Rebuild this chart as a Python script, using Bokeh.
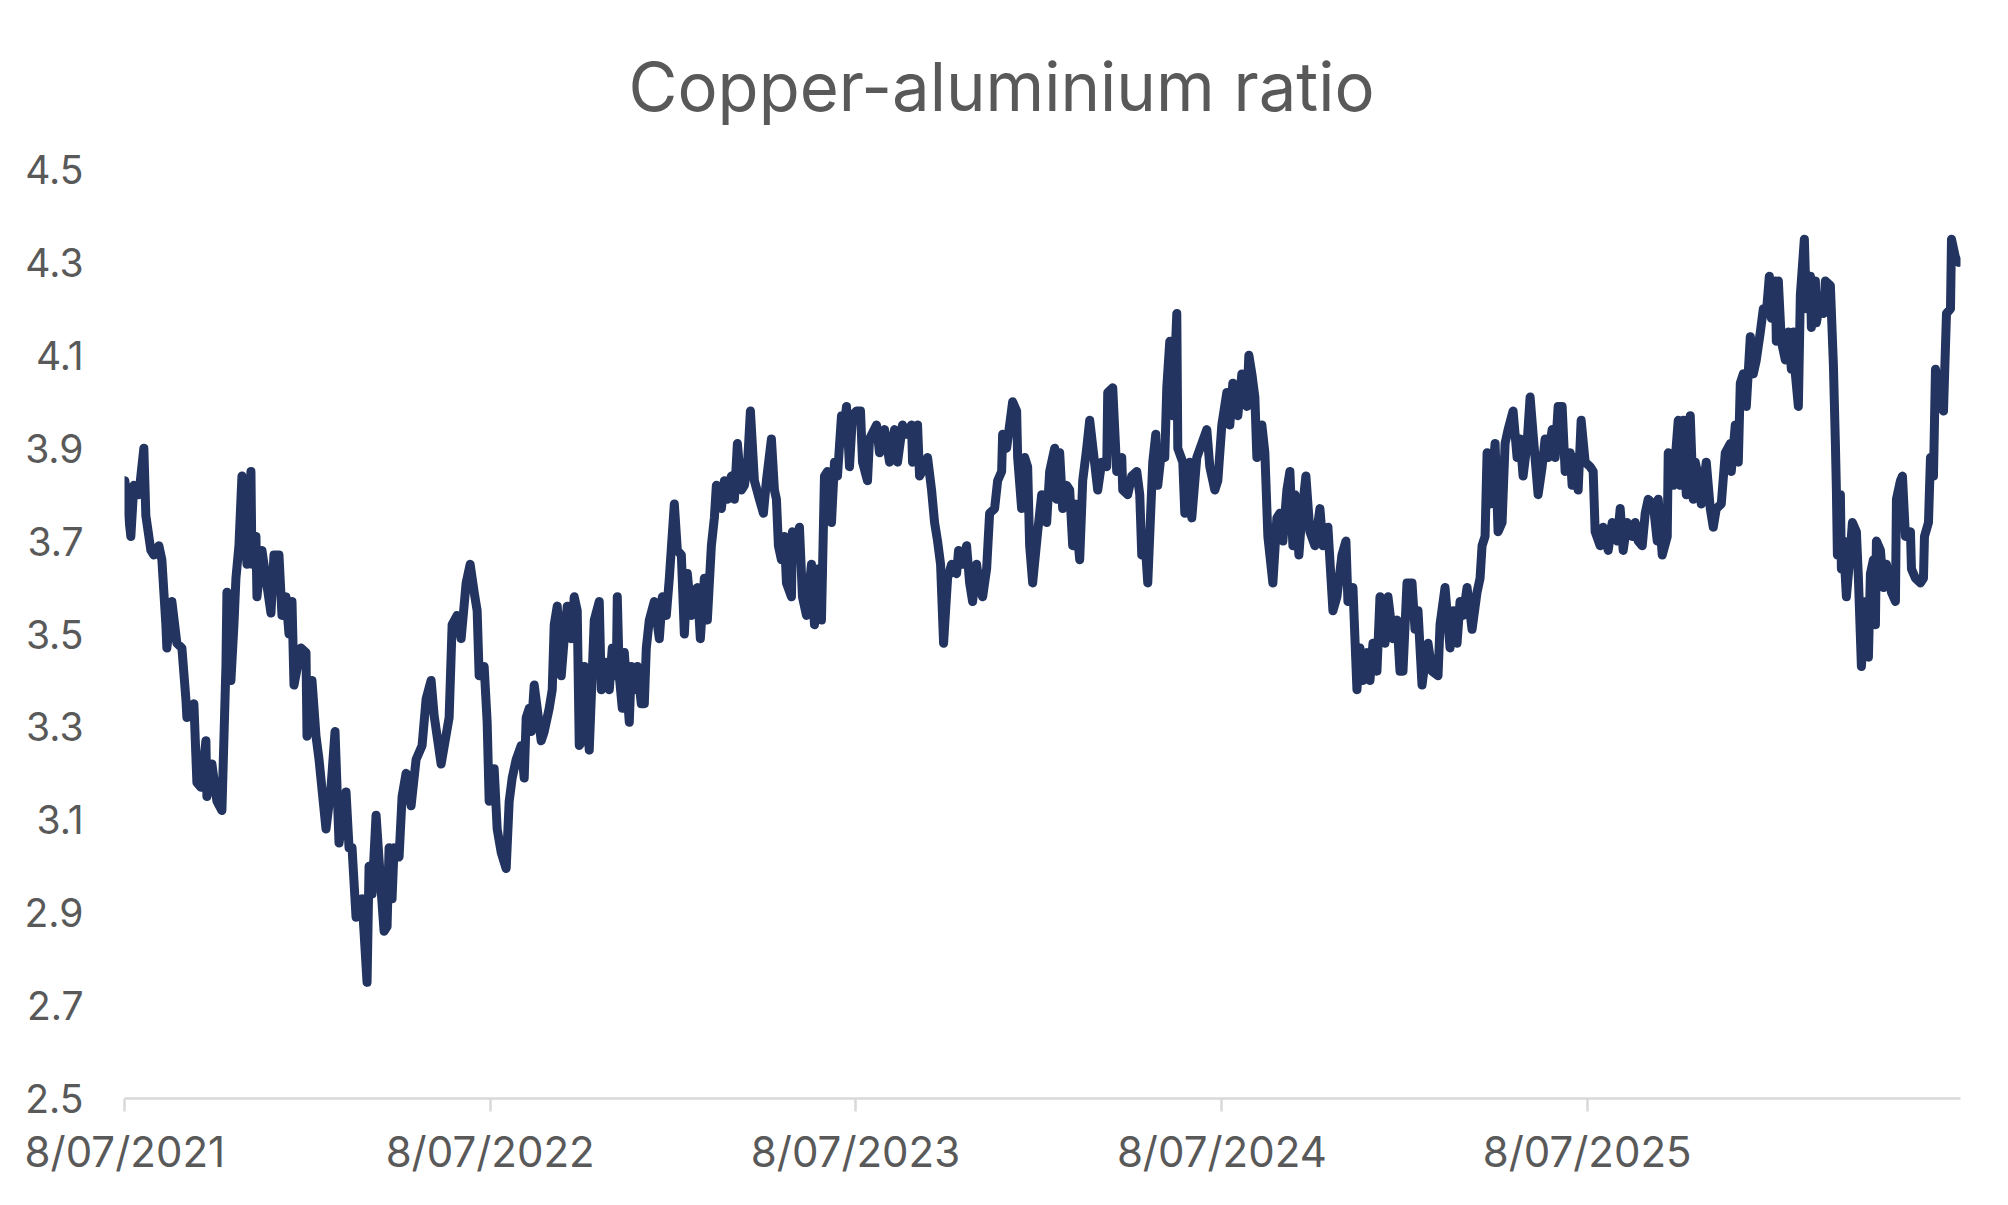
import pandas as pd
from bokeh.plotting import figure
from bokeh.models import ColumnDataSource, Range1d, FixedTicker, CustomJSTickFormatter
from bokeh.embed import file_html
from bokeh.resources import INLINE

title_text = "Copper-aluminium ratio"
start_date = "2021-07-08"
x_tick_dates = ["2021-07-08", "2022-07-08", "2023-07-08", "2024-07-08", "2025-07-08"]
y_ticks = [2.5, 2.7, 2.9, 3.1, 3.3, 3.5, 3.7, 3.9, 4.1, 4.3, 4.5]

# (days since 8/07/2021, copper/aluminium ratio)
seg_2021_22 = [(0,3.83),(6,3.71),(9,3.82),(14,3.80),(19,3.90),(21,3.755),(26,3.68),(29,3.67),(34,3.69),(37,3.66),
    (41,3.52),(42,3.47),(47,3.57),(52,3.48),(57,3.47),(61,3.36),(62,3.32),(69,3.35),(72,3.18),(76,3.17),(81,3.27),
    (82,3.15),(87,3.22),(92,3.14),(97,3.12),(101,3.43),(102,3.59),(106,3.40),(109,3.52),(111,3.62),(114,3.69),
    (117,3.84),(122,3.65),(126,3.85),(127,3.65),(131,3.71),(132,3.58),(137,3.68),(141,3.62),(146,3.545),(149,3.67),
    (154,3.67),(157,3.54),(161,3.58),(164,3.50),(167,3.57),(169,3.39),(176,3.47),(181,3.46),(182,3.28),(187,3.40),
    (191,3.28),(194,3.23),(201,3.08),(206,3.17),(210,3.29),(214,3.05),(221,3.16),(224,3.04),(227,3.04),(231,2.89),
    (237,2.93),(242,2.75),(244,3.00),(247,2.94),(251,3.11),(256,2.95),(259,2.86),(262,2.87),(264,3.04),(267,2.93),
    (269,3.04),(274,3.02),(277,3.15),(281,3.20),(286,3.13),(291,3.23),(297,3.26),(301,3.36),(306,3.40),(309,3.325),
    (316,3.22)]
seg_2022_23 = [(324,3.32),(327,3.52),(332,3.54),(336,3.49),(341,3.61),(345,3.65),(349,3.59),(352,3.55),(354,3.41),
    (359,3.43),(362,3.31),(364,3.14),(369,3.21),(372,3.08),(376,3.03),(381,2.995),(384,3.14),(387,3.19),(391,3.23),
    (396,3.26),(399,3.19),(401,3.32),(404,3.34),(406,3.29),(409,3.39),(412,3.34),(416,3.27),(419,3.29),(424,3.34),
    (427,3.38),(429,3.52),(432,3.56),(436,3.41),(439,3.49),(442,3.56),(446,3.49),(449,3.58),(452,3.55),(454,3.26),
    (457,3.27),(459,3.43),(464,3.25),(469,3.53),(474,3.57),(476,3.38),(479,3.44),(484,3.38),(487,3.47),(491,3.41),
    (492,3.58),(494,3.41),(497,3.34),(499,3.46),(504,3.31),(506,3.43),(511,3.38),(512,3.43),(516,3.35),(519,3.35),
    (521,3.47),(524,3.53),(529,3.57),(534,3.49),(537,3.58),(541,3.54),(544,3.62),(549,3.78),(552,3.68),(556,3.67),
    (559,3.50),(562,3.63),(566,3.54),(569,3.59),(572,3.60),(575,3.49),(579,3.62),(582,3.53),(586,3.69),(589,3.75),
    (591,3.82),(596,3.77),(599,3.83),(602,3.79),(606,3.84),(609,3.79),(612,3.91),(616,3.81),(619,3.82),(622,3.86),
    (625,3.98),(629,3.83),(634,3.79),(638,3.76),(641,3.83)]
seg_2023_24 = [(646,3.92),(649,3.81),(651,3.79),(653,3.69),(656,3.66),(659,3.71),(661,3.61),(666,3.58),(667,3.72),
    (671,3.70),(674,3.73),(677,3.58),(681,3.54),(686,3.65),(689,3.52),(692,3.64),(696,3.53),(699,3.84),(702,3.85),
    (706,3.74),(709,3.87),(712,3.84),(716,3.97),(719,3.95),(721,3.99),(724,3.86),(727,3.97),(731,3.98),(735,3.98),
    (737,3.87),(742,3.83),(744,3.92),(751,3.95),(754,3.89),(759,3.94),(764,3.87),(769,3.94),(772,3.87),(777,3.95),
    (781,3.93),(786,3.95),(787,3.87),(792,3.95),(794,3.84),(799,3.86),(802,3.88),(806,3.81),(809,3.74),(812,3.70),
    (815,3.65),(818,3.48),(822,3.62),(826,3.65),(831,3.63),(833,3.68),(837,3.65),(841,3.69),(844,3.61),(847,3.57),
    (851,3.65),(854,3.60),(857,3.58),(861,3.64),(864,3.76),(869,3.77),(872,3.83),(876,3.85),(877,3.93),(881,3.90),
    (887,4.00),(891,3.98),(892,3.88),(896,3.77),(899,3.88),(902,3.86),(904,3.69),(907,3.61),(912,3.72),(916,3.80),
    (921,3.74),(924,3.85),(929,3.90),(931,3.79),(934,3.89),(937,3.77),(941,3.82),(944,3.81),(947,3.69),(949,3.78),
    (954,3.66),(957,3.83),(961,3.90),(964,3.96)]
seg_2024_25 = [(972,3.81),(976,3.87),(981,3.86),(982,4.02),(987,4.03),(991,3.85),(996,3.88),(997,3.81),(1002,3.80),
    (1006,3.84),(1011,3.85),(1014,3.80),(1016,3.67),(1019,3.71),(1022,3.61),(1027,3.87),(1030,3.93),(1032,3.82),
    (1036,3.90),(1039,3.88),(1041,4.03),(1044,4.13),(1047,3.97),(1051,4.19),(1052,3.90),(1057,3.87),(1059,3.76),
    (1064,3.87),(1066,3.75),(1071,3.88),(1076,3.91),(1081,3.94),(1084,3.86),(1089,3.81),(1092,3.83),(1096,3.95),
    (1101,4.02),(1104,3.95),(1107,4.04),(1112,3.97),(1116,4.06),(1121,3.99),(1123,4.10),(1126,4.06),(1129,4.01),
    (1131,3.88),(1136,3.95),(1139,3.89),(1142,3.71),(1147,3.61),(1151,3.75),(1154,3.76),(1157,3.70),(1161,3.81),
    (1164,3.85),(1167,3.69),(1169,3.80),(1173,3.67),(1176,3.76),(1180,3.84),(1184,3.72),(1189,3.69),(1194,3.77),
    (1197,3.69),(1202,3.73),(1207,3.55),(1211,3.58),(1216,3.67),(1220,3.70),(1222,3.57),(1227,3.60),(1231,3.38),
    (1234,3.47),(1237,3.40),(1241,3.46),(1244,3.40),(1247,3.48),(1251,3.42),(1254,3.58),(1259,3.48),(1262,3.58),
    (1267,3.49),(1271,3.53),(1274,3.42),(1277,3.42),(1281,3.61),(1286,3.61),(1289,3.51),(1292,3.55),(1296,3.39)]
seg_2025_26 = [(1299,3.44),(1302,3.48),(1306,3.42),(1312,3.41),(1314,3.52),(1319,3.60),(1324,3.47),(1327,3.55),
    (1331,3.48),(1334,3.57),(1337,3.54),(1341,3.60),(1346,3.51),(1351,3.59),(1354,3.62),(1356,3.69),(1359,3.71),
    (1361,3.89),(1364,3.78),(1369,3.91),(1372,3.72),(1376,3.74),(1379,3.91),(1382,3.94),(1387,3.98),(1391,3.88),
    (1394,3.92),(1397,3.84),(1401,3.91),(1404,4.01),(1407,3.93),(1412,3.80),(1416,3.86),(1419,3.92),(1422,3.88),
    (1426,3.94),(1429,3.88),(1432,3.99),(1436,3.99),(1439,3.85),(1444,3.89),(1446,3.82),(1449,3.88),(1452,3.81),
    (1455,3.96),(1459,3.87),(1464,3.86),(1467,3.85),(1469,3.72),(1474,3.69),(1477,3.73),(1482,3.68),(1486,3.74),
    (1491,3.70),(1494,3.77),(1497,3.68),(1501,3.74),(1506,3.71),(1509,3.74),(1512,3.70),(1516,3.69),(1519,3.76),
    (1522,3.79),(1527,3.78),(1531,3.70),(1532,3.79),(1536,3.67),(1541,3.71),(1542,3.89),(1547,3.82),(1552,3.96)]
seg_2026 = [(1554,3.82),(1557,3.96),(1560,3.80),(1564,3.97),(1567,3.79),(1569,3.87),(1572,3.84),(1575,3.78),
    (1580,3.87),(1584,3.77),(1587,3.73),(1590,3.77),(1595,3.78),(1599,3.89),(1604,3.91),(1605,3.85),(1609,3.95),
    (1612,3.87),(1614,4.04),(1617,4.06),(1620,3.99),(1624,4.14),(1627,4.06),(1630,4.09),(1634,4.15),(1637,4.20),
    (1640,4.19),(1643,4.27),(1645,4.18),(1649,4.26),(1650,4.13),(1652,4.26),(1655,4.13),(1659,4.09),(1662,4.15),
    (1665,4.07),(1667,4.15),(1669,4.06),(1672,3.99),(1674,4.23),(1678,4.35),(1680,4.20),(1684,4.27),(1685,4.16),
    (1689,4.26),(1690,4.17),(1694,4.22),(1697,4.19),(1699,4.26),(1704,4.25),(1707,4.08),(1709,3.91),(1710,3.81),
    (1711,3.67),(1714,3.80),(1715,3.64),(1717,3.70),(1720,3.58),(1724,3.68),(1726,3.74),(1730,3.72),(1732,3.62),
    (1735,3.43),(1739,3.57),(1742,3.45),(1744,3.63),(1747,3.66),(1749,3.52),(1750,3.70),(1754,3.68),(1757,3.60),
    (1760,3.65),(1765,3.59),(1769,3.57),(1770,3.79),(1774,3.83),(1776,3.84),(1779,3.71),(1784,3.72),(1785,3.64),
    (1789,3.62),(1794,3.61),(1797,3.62),(1798,3.71),(1802,3.74),(1804,3.88),(1807,3.84),(1809,4.07),(1814,4.00),
    (1817,3.98),(1820,4.19),(1824,4.20),(1825,4.35),(1829,4.31),(1832,4.30)]

obs = seg_2021_22 + seg_2022_23 + seg_2023_24 + seg_2024_25 + seg_2025_26 + seg_2026
t0 = pd.Timestamp(start_date)
dates = [t0 + pd.Timedelta(days=d) for d, _ in obs]
ratio = [v for _, v in obs]
source = ColumnDataSource(data=dict(date=dates, ratio=ratio))

TEXT = "#595959"
FONT = "Inter"

p = figure(width=1992, height=1189, x_axis_type="datetime",
           x_range=Range1d(t0 - pd.Timedelta(hours=8), t0 + pd.Timedelta(days=1834)),
           y_range=Range1d(2.5, 4.5),
           output_backend="svg", toolbar_location=None,
           min_border_left=124, min_border_right=32, min_border_top=169, min_border_bottom=91)
p.outline_line_color = None
p.xgrid.grid_line_color = None
p.ygrid.grid_line_color = None
p.background_fill_color = "white"
p.border_fill_color = "white"

p.title.text = title_text
p.title.text_font = FONT
p.title.text_font_size = "67px"
p.title.text_font_style = "normal"
p.title.text_color = TEXT
p.title.align = "left"
p.title.offset = 504
p.title.standoff = 85

p.line(x="date", y="ratio", source=source, line_color="#22345f", line_width=9,
       line_join="round", line_cap="round")

ya = p.yaxis[0]
ya.ticker = FixedTicker(ticks=y_ticks)
ya.axis_line_color = None
ya.major_tick_line_color = None
ya.minor_tick_line_color = None
ya.major_tick_out = 0
ya.major_tick_in = 0
ya.major_label_standoff = 41
ya.major_label_text_font = FONT
ya.major_label_text_font_size = "39px"
ya.major_label_text_color = TEXT

xa = p.xaxis[0]
xa.ticker = FixedTicker(ticks=[pd.Timestamp(d).value // 10**6 for d in x_tick_dates])
xa.formatter = CustomJSTickFormatter(code="""
const d = new Date(tick);
const mm = String(d.getUTCMonth() + 1).padStart(2, '0');
return d.getUTCDate() + '/' + mm + '/' + d.getUTCFullYear();
""")
xa.axis_line_color = "#d9d9d9"
xa.axis_line_width = 2.5
xa.major_tick_line_color = "#d9d9d9"
xa.major_tick_line_width = 2.5
xa.major_tick_out = 13
xa.major_tick_in = 0
xa.minor_tick_line_color = None
xa.major_label_standoff = 14
xa.major_label_text_font = FONT
xa.major_label_text_font_size = "42px"
xa.major_label_text_color = TEXT

open("out.html", "w").write(file_html(p, INLINE))
